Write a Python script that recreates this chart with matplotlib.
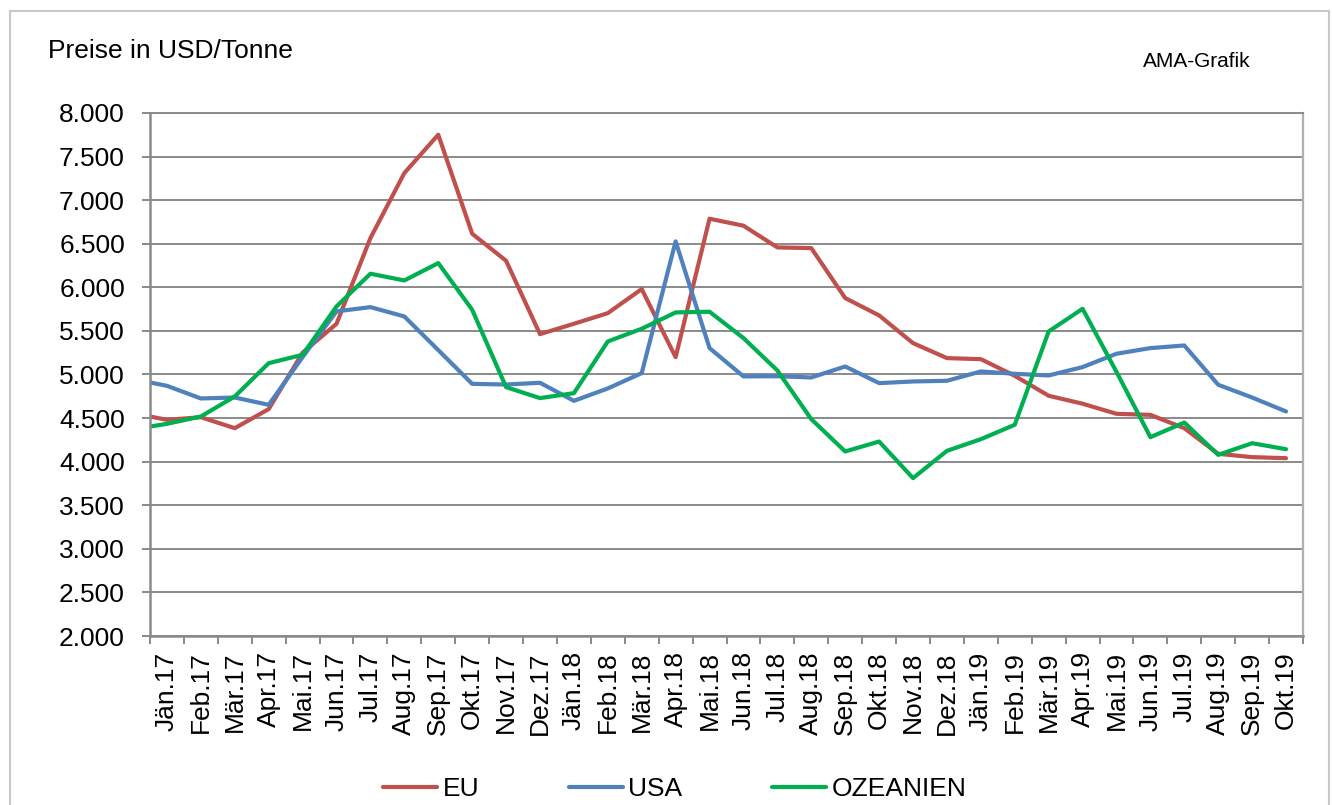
import numpy as np
import matplotlib.pyplot as plt
from matplotlib.patches import Rectangle
from matplotlib.ticker import FixedLocator, FuncFormatter

plt.rcParams['font.family'] = ['Liberation Sans', 'DejaVu Sans']

# Monate (erster Wert Dez.16 liegt ausserhalb der Achse, nur fuer den Linienanfang)
monate = ['Dez.16',
          'Jän.17', 'Feb.17', 'Mär.17', 'Apr.17', 'Mai.17', 'Jun.17', 'Jul.17', 'Aug.17',
          'Sep.17', 'Okt.17', 'Nov.17', 'Dez.17',
          'Jän.18', 'Feb.18', 'Mär.18', 'Apr.18', 'Mai.18', 'Jun.18', 'Jul.18', 'Aug.18',
          'Sep.18', 'Okt.18', 'Nov.18', 'Dez.18',
          'Jän.19', 'Feb.19', 'Mär.19', 'Apr.19', 'Mai.19', 'Jun.19', 'Jul.19', 'Aug.19',
          'Sep.19', 'Okt.19']

eu = [4556,
      4480, 4510, 4384, 4603, 5250, 5582, 6565, 7311, 7751, 6615, 6305, 5463,
      5582, 5704, 5980, 5199, 6787, 6707, 6458, 6450, 5877, 5678, 5360, 5188,
      5176, 4985, 4756, 4665, 4549, 4537, 4384, 4090, 4052, 4040]
usa = [4948,
       4870, 4725, 4736, 4652, 5200, 5724, 5773, 5666, 5280, 4893, 4885, 4905,
       4698, 4840, 5016, 6527, 5303, 4978, 4980, 4966, 5092, 4901, 4920, 4928,
       5035, 5008, 4989, 5085, 5238, 5303, 5333, 4882, 4736, 4576]
ozeanien = [4372,
            4434, 4518, 4748, 5130, 5226, 5781, 6156, 6079, 6278, 5743, 4855, 4729,
            4786, 5379, 5525, 5712, 5720, 5418, 5046, 4488, 4117, 4231, 3811, 4124,
            4258, 4423, 5494, 5754, 5030, 4281, 4449, 4078, 4212, 4143]

x = np.arange(len(monate)) - 1  # Jän.17 = 0

W, H = 1332, 805
fig = plt.figure(figsize=(W / 100, H / 100), dpi=100)
ax = fig.add_axes([150 / W, 1 - 636 / H, (1303 - 150) / W, (636 - 113) / H])

# outer chart border
fig.patches.append(Rectangle((9.5 / W, 1 - 815 / H), (1329 - 9.5) / W, (815 - 11) / H,
                             transform=fig.transFigure, fill=False,
                             edgecolor='#c8c8c8', lw=1.5))

ax.plot(x, eu, color='#C0504D', lw=3, label='EU', solid_capstyle='round')
ax.plot(x, usa, color='#4F81BD', lw=3, label='USA', solid_capstyle='round')
ax.plot(x, ozeanien, color='#00B050', lw=3, label='OZEANIEN', solid_capstyle='round')

ax.set_xlim(-0.5, len(monate) - 1.5)
ax.set_ylim(2000, 8000)

ax.set_yticks(np.arange(2000, 8001, 500))
ax.yaxis.set_major_formatter(FuncFormatter(lambda v, p: f'{v:,.0f}'.replace(',', '.')))
ax.grid(axis='y', color='#8a8a8a', lw=1.4)
ax.set_axisbelow(True)

ax.set_xticks(x[1:])
ax.set_xticklabels(monate[1:], rotation=90)
ax.xaxis.set_minor_locator(FixedLocator(np.arange(-0.5, len(monate) - 1, 1)))
ax.tick_params(axis='x', which='major', length=0, pad=11, labelsize=19)
ax.tick_params(axis='x', which='minor', length=6, width=1.4, color='#8a8a8a', direction='out')
ax.tick_params(axis='y', length=6, width=1.4, color='#8a8a8a', pad=12, labelsize=19)

for s in ['left', 'bottom']:
    ax.spines[s].set_color('#8a8a8a')
    ax.spines[s].set_linewidth(1.8)
ax.spines['right'].set_color('#b0b0b0')
ax.spines['right'].set_linewidth(1.6)
ax.spines['top'].set_color('#8a8a8a')
ax.spines['top'].set_linewidth(1.4)

fig.text(48 / W, 1 - 58 / H, 'Preise in USD/Tonne', fontsize=19, ha='left', va='baseline')
fig.text(1143 / W, 1 - 67 / H, 'AMA-Grafik', fontsize=15, ha='left', va='baseline')

fig.legend(loc='center', bbox_to_anchor=(675 / W, 1 - 789 / H), ncol=3, frameon=False,
           fontsize=19, handlelength=2.05, handletextpad=0.2, columnspacing=3.4)

fig.savefig('out.png', dpi=100)
